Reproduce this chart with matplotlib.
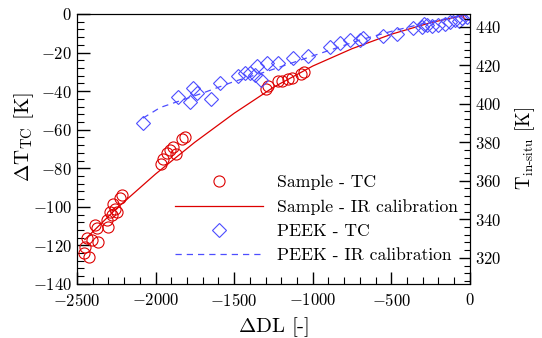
import numpy as np
import matplotlib
matplotlib.use('Agg')
import matplotlib.pyplot as plt
from matplotlib.ticker import MultipleLocator

plt.rcParams['font.family'] = ['cmr10', 'DejaVu Serif']
plt.rcParams['mathtext.fontset'] = 'cm'
plt.rcParams['axes.unicode_minus'] = False
plt.rcParams['axes.formatter.use_mathtext'] = True

# sample thermocouple readings
sample_dl = [-2455, -2449, -2436, -2424, -2405, -2385, -2373, -2366, -2309, -2303,
             -2290, -2280, -2271, -2260, -2246, -2226, -2214,
             -1965, -1950, -1930, -1905, -1890, -1870, -1830, -1810,
             -1300, -1285, -1220, -1195, -1160, -1130, -1075, -1055, -15]
sample_dt = [-124, -121, -116, -126, -117, -109.5, -111, -118.5, -107, -110.5,
             -102.5, -104, -98.5, -101, -102.5, -95.5, -94,
             -78, -75, -72, -70.5, -69, -72.5, -65, -64,
             -39, -37.5, -35, -34.5, -33.5, -33, -31, -30, 0]

# sample IR calibration curve
sample_fit_dl = [-2450, -2250, -2000, -1750, -1500, -1250, -1000, -750, -500, -250, 0]
sample_fit_dt = [-117, -101, -83, -66.5, -51.5, -38, -27, -18, -10.5, -4.5, 0]

# PEEK thermocouple readings
peek_dl = [-2080, -1857, -1781, -1762, -1737, -1648, -1590, -1476, -1431, -1399,
           -1368, -1355, -1330, -1291, -1221, -1126, -1030, -891, -827, -763,
           -700, -680, -554, -465, -363, -306, -290, -274, -242, -200, -160,
           -127, -95, -70, -51, -19, 0]
peek_dt = [-56.5, -43, -45.5, -38.5, -41, -44, -36, -32, -30.5, -30.5,
           -31.5, -27, -34, -25.5, -25.5, -23, -22, -17, -15, -13.5,
           -13.5, -12.5, -11.5, -10.5, -7.5, -6.5, -5, -5.5, -6, -5.5, -5,
           -4, -3, -3.5, -2, -1.5, 0]

# PEEK IR calibration curve
peek_fit_dl = [-2080, -1970, -1880, -1700, -1500, -1300, -1100, -900, -700, -500, -300, -100, 0]
peek_fit_dt = [-54, -48.5, -46, -41, -35, -30, -24.5, -19, -13.5, -9, -5, -1.5, 0]

red = '#dd0000'
blue = '#4d4dff'

fig = plt.figure(figsize=(5.42, 3.38), dpi=100)
ax = fig.add_axes([0.142, 0.160, 0.725, 0.7986])

ax.plot(sample_dl, sample_dt, 'o', ms=8, mfc='none', mec=red, mew=0.8, label='Sample - TC')
ax.plot(sample_fit_dl, sample_fit_dt, '-', color=red, lw=0.9, label='Sample - IR calibration')
ax.plot(peek_dl, peek_dt, 'D', ms=7, mfc='none', mec=blue, mew=0.8, label='PEEK - TC')
ax.plot(peek_fit_dl, peek_fit_dt, '--', color=blue, lw=0.9, dashes=(5, 4), label='PEEK - IR calibration')

ax.set_xlim(-2500, 0)
ax.set_ylim(-140, 0)
ax.xaxis.set_major_locator(MultipleLocator(500))
ax.xaxis.set_minor_locator(MultipleLocator(100))
ax.yaxis.set_major_locator(MultipleLocator(20))
ax.yaxis.set_minor_locator(MultipleLocator(4))
ax.tick_params(which='both', direction='in', top=False, right=False, labelsize=12)
ax.tick_params(which='major', length=9, width=1)
ax.tick_params(which='minor', length=5, width=0.8)
ax.tick_params(axis='x', which='both', pad=6)
ax.set_xlabel(r'$\Delta$DL [-]', fontsize=15)
ax.set_ylabel(r'$\Delta\mathrm{T}_{\mathrm{TC}}$ [K]', fontsize=15)
ax.yaxis.set_label_coords(-0.105, 0.544)

ax2 = ax.twinx()
ax2.set_ylim(306.5, 446.5)
ax2.yaxis.set_major_locator(MultipleLocator(20))
ax2.yaxis.set_minor_locator(MultipleLocator(4))
ax2.tick_params(which='both', direction='in', labelsize=12)
ax2.tick_params(which='major', length=8, width=1)
ax2.tick_params(which='minor', length=4, width=0.8)
ax2.set_ylabel(r'$\mathrm{T}_{\mathrm{in\text{-}situ}}$ [K]', fontsize=13.5)
ax2.yaxis.set_label_coords(1.11, 0.5)

ax.legend(loc='lower right', bbox_to_anchor=(1.01, 0.017), frameon=False,
          fontsize=12.7, handlelength=5.0, labelspacing=0.5)

fig.savefig('out.png', dpi=100)
